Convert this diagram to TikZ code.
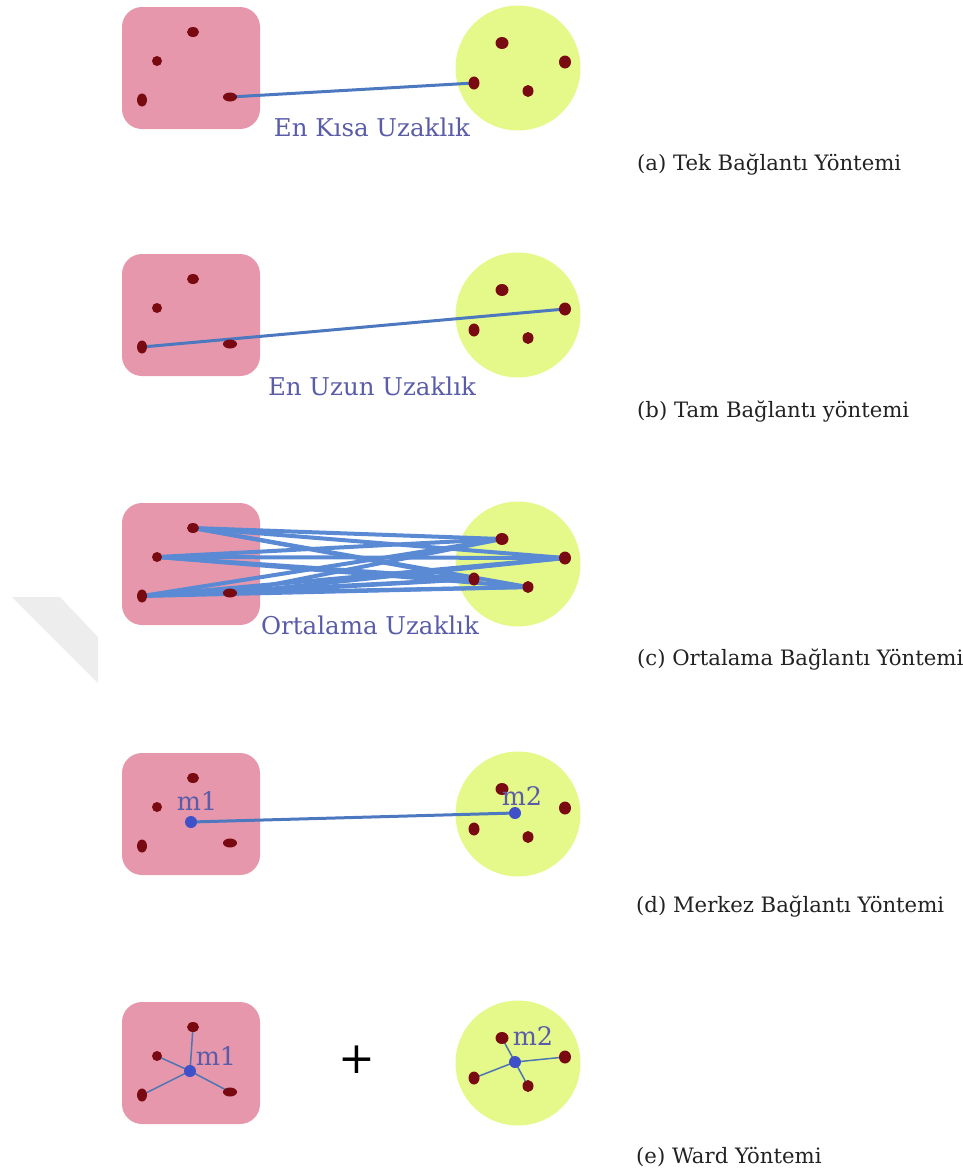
\documentclass[tikz,border=0pt]{standalone}
\usepackage{fontspec}
\setmainfont{DejaVu Serif}
\usetikzlibrary{shapes.geometric}
\pgfdeclarelayer{back}
\pgfdeclarelayer{lines}
\pgfsetlayers{back,lines,main}
\definecolor{pinkbox}{HTML}{E697AB}
\definecolor{limecirc}{HTML}{E5F98A}
\definecolor{dotred}{HTML}{7A0A12}
\definecolor{cen}{HTML}{3F50C8}
\definecolor{linkblue}{HTML}{5A8AD4}
\definecolor{darklink}{HTML}{4C78C0}
\definecolor{labblue}{HTML}{5A5CA8}
\definecolor{capgray}{HTML}{222222}
\tikzset{
  pbox/.style={rectangle,rounded corners=20pt,fill=pinkbox,minimum width=138pt,minimum height=122pt,inner sep=0pt},
  gcirc/.style={circle,fill=limecirc,minimum size=125pt,inner sep=0pt},
  rdot/.style={ellipse,fill=dotred,inner sep=0pt},
  cdot/.style={circle,fill=cen,minimum size=12pt,inner sep=0pt},
  link/.style={draw=darklink,line width=3pt},
  thicklink/.style={draw=linkblue,line width=4pt},
  thinlink/.style={draw=linkblue!85!black,line width=1.5pt},
  distlabel/.style={text=labblue,font=\fontsize{24.5}{26}\selectfont,inner sep=0pt},
  mlabel/.style={text=labblue,font=\fontsize{25.5}{27}\selectfont,inner sep=0pt},
  caption/.style={text=capgray,font=\fontsize{21.2}{23}\selectfont,anchor=west,inner sep=0pt}
}
\newcommand\clusterpanel[2]{%
  \begin{pgfonlayer}{back}
  \node[pbox] (#1box) at (191,68+#2) {};
  \node[gcirc] (#1circ) at (518,68+#2) {};
  \end{pgfonlayer}
  \node[rdot,minimum width=12pt,minimum height=10pt] (#1L1) at (193,32+#2) {};
  \node[rdot,minimum width=10pt,minimum height=10pt] (#1L2) at (157,61+#2) {};
  \node[rdot,minimum width=10pt,minimum height=13pt] (#1L3) at (142,100+#2) {};
  \node[rdot,minimum width=14pt,minimum height=9pt] (#1L4) at (230,97+#2) {};
  \node[rdot,minimum width=13pt,minimum height=12pt] (#1R1) at (502,43+#2) {};
  \node[rdot,minimum width=12pt,minimum height=13pt] (#1R2) at (565,62+#2) {};
  \node[rdot,minimum width=11pt,minimum height=13pt] (#1R3) at (474,83+#2) {};
  \node[rdot,minimum width=11pt,minimum height=12pt] (#1R4) at (528,91+#2) {};
}
\begin{document}
\begin{tikzpicture}[x=1pt,y=-1pt]
\useasboundingbox (0,0) rectangle (963,1176);
% faint watermark
\fill[black!7] (12,597) -- (60,597) -- (98,637) -- (98,683) -- cycle;

% (a)
\clusterpanel{a}{0}
\begin{pgfonlayer}{lines}
\draw[link] (aL4.center) -- (aR3.center);
\end{pgfonlayer}
\node[distlabel] (alab) at (372,127) {En Kısa Uzaklık};
\node[caption] (acap) at (637,165) {(a) Tek Bağlantı Yöntemi};

% (b)
\clusterpanel{b}{247}
\begin{pgfonlayer}{lines}
\draw[link] (bL3.center) -- (bR2.center);
\end{pgfonlayer}
\node[distlabel] (blab) at (372,386) {En Uzun Uzaklık};
\node[caption] (bcap) at (637,412) {(b) Tam Bağlantı yöntemi};

% (c)
\clusterpanel{c}{496}
\begin{pgfonlayer}{lines}
\foreach \i in {1,2,3,4}{
  \foreach \j in {1,2,3,4}{
    \draw[thicklink] (cL\i.center) -- (cR\j.center);
  }
}
\end{pgfonlayer}
\node[distlabel] (clab) at (370,625) {Ortalama Uzaklık};
\node[caption] (ccap) at (637,660) {(c) Ortalama Bağlantı Yöntemi};

% (d)
\clusterpanel{d}{746}
\node[cdot] (dm1) at (191,822) {};
\node[cdot] (dm2) at (515,813) {};
\begin{pgfonlayer}{lines}
\draw[link] (dm1.center) -- (dm2.center);
\end{pgfonlayer}
\node[mlabel] (dm1lab) at (197,801) {m1};
\node[mlabel] (dm2lab) at (522,796) {m2};
\node[caption] (dcap) at (636,907) {(d) Merkez Bağlantı Yöntemi};

% (e)
\clusterpanel{e}{995}
\node[cdot] (em1) at (190,1071) {};
\node[cdot] (em2) at (515,1062) {};
\begin{pgfonlayer}{lines}
\foreach \i in {1,2,3,4}{
  \draw[thinlink] (em1.center) -- (eL\i.center);
  \draw[thinlink] (em2.center) -- (eR\i.center);
}
\end{pgfonlayer}
\node[mlabel] (em1lab) at (216,1056) {m1};
\node[mlabel] (em2lab) at (533,1036) {m2};
\node[text=black,font=\fontsize{44}{46}\selectfont,inner sep=0pt] (plus) at (357,1060) {+};
\node[caption] (ecap) at (636,1157) {(e) Ward Yöntemi};
\end{tikzpicture}
\end{document}
